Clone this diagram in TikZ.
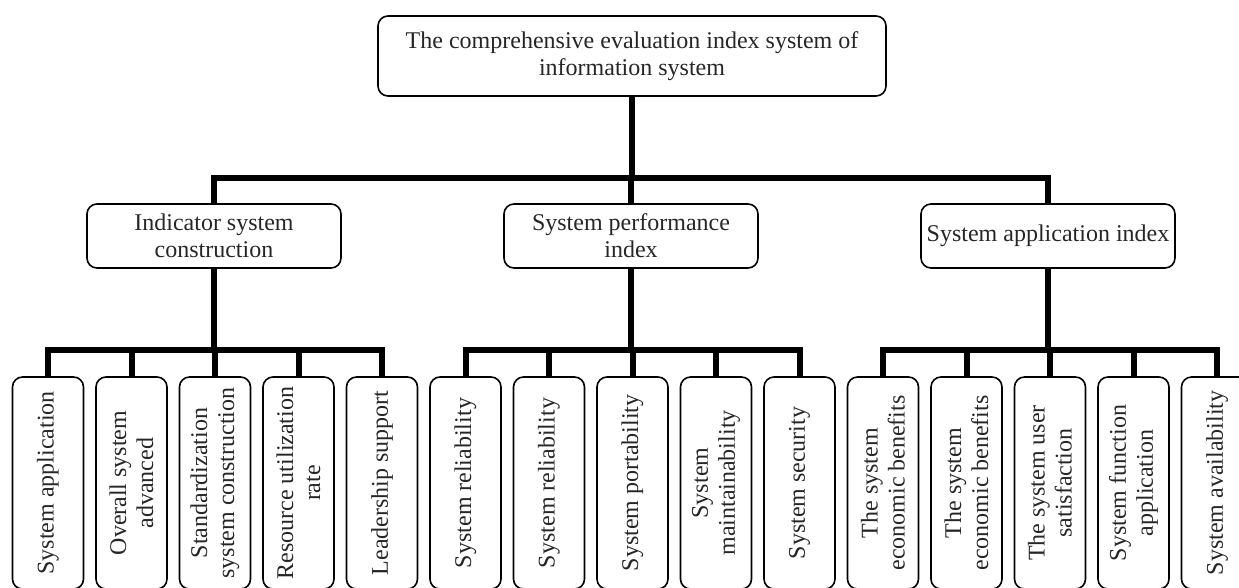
\documentclass[tikz,border=0pt]{standalone}
\usepackage{fontspec}
\setmainfont{Liberation Serif}

\begin{document}
\begin{tikzpicture}[x = 1pt, y = -1pt,
		box/.style = {draw, line width = 1.6pt, rounded corners = 10pt, align = center, inner sep = 2pt, text = black!85, font = \fontsize{24}{27}\selectfont},
		leafbox/.style = {box, rotate = 90, minimum width = 212pt, minimum height = 71pt},
		link/.style = {line width = 6pt}]
		
		\useasboundingbox (0,0) rectangle (1239,587);
		\clip (0,0) rectangle (1239,587);
		
		\node (root) at (632,56) [box, minimum width = 508pt, minimum height = 80pt] {The comprehensive evaluation index system of\\information system};
		\node (ind) at (214,236) [box, minimum width = 254pt, minimum height = 64pt] {Indicator system\\construction};
		\node (perf) at (631,236) [box, minimum width = 254pt, minimum height = 64pt] {System performance\\index};
		\node (app) at (1048,236) [box, minimum width = 254pt, minimum height = 64pt] {System application index};
		
		\foreach \m in {ind, perf, app}
			\draw[link] (root.south) -- ++(0,81) -| (\m.north);
		
		\foreach \txt/\up [count = \i] in {
				System application/ind, {Overall system\\advanced}/ind, {Standardization\\system construction}/ind, {Resource utilization\\rate}/ind, Leadership support/ind,
				System reliability/perf, System reliability/perf, System portability/perf, {System\\maintainability}/perf, System security/perf,
				{The system\\economic benefits}/app, {The system\\economic benefits}/app, {The system user\\satisfaction}/app, {System function\\application}/app, System availability/app}
		{
			\node (leaf\i) at ({48 + 83.5*(\i - 1)},483) [leafbox] {\txt};
			\draw[link] (\up.south) -- ++(0,81) -| (leaf\i.east);
		}
	\end{tikzpicture}
\end{document}
